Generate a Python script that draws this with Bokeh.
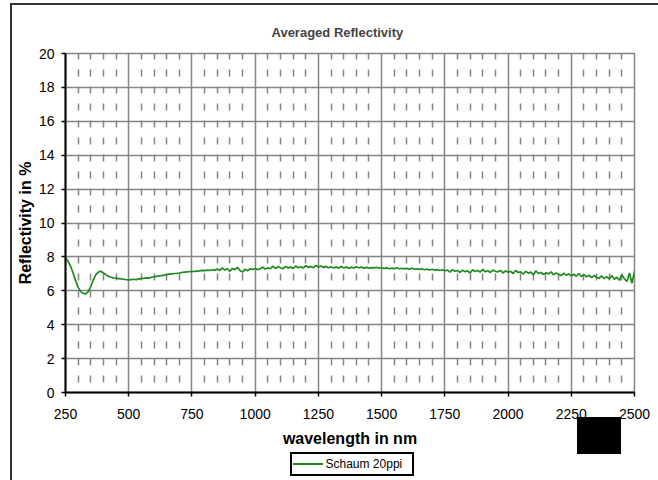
from bokeh.plotting import figure
from bokeh.models import (Range1d, FixedTicker, Title)
from bokeh.embed import file_html
from bokeh.resources import INLINE

# ---- data ----
wavelength_nm = list(range(250, 2501, 10))
reflectivity_pct = [
    7.95, 7.75, 7.45, 7.05, 6.60, 6.20, 5.95, 5.85, 5.82, 5.95,   # 250-340
    6.25, 6.65, 6.95, 7.10, 7.15, 7.05, 6.95, 6.85, 6.80, 6.76,   # 350-440
    6.74, 6.72, 6.70, 6.68, 6.66, 6.65, 6.66, 6.68, 6.66, 6.70,   # 450-540
    6.72, 6.74, 6.76, 6.75, 6.80, 6.82, 6.85, 6.88, 6.90, 6.92,   # 550-640
    6.95, 6.98, 7.00, 7.02, 7.03, 7.05, 7.08, 7.10, 7.12, 7.13,   # 650-740
    7.15, 7.14, 7.16, 7.18, 7.20, 7.19, 7.22, 7.20, 7.24, 7.22,   # 750-840
    7.28, 7.20, 7.35, 7.22, 7.30, 7.15, 7.32, 7.25, 7.38, 7.20,   # 850-940
    7.10, 7.28, 7.18, 7.30, 7.26, 7.32, 7.25, 7.30, 7.40, 7.28,   # 950-1040
    7.35, 7.30, 7.45, 7.32, 7.42, 7.36, 7.30, 7.44, 7.35, 7.40,   # 1050-1140
    7.32, 7.46, 7.36, 7.42, 7.34, 7.48, 7.38, 7.44, 7.36, 7.50,   # 1150-1240
    7.40, 7.46, 7.38, 7.44, 7.36, 7.42, 7.35, 7.40, 7.34, 7.43,   # 1250-1340
    7.36, 7.40, 7.33, 7.38, 7.35, 7.42, 7.36, 7.40, 7.34, 7.38,   # 1350-1440
    7.33, 7.37, 7.35, 7.39, 7.34, 7.36, 7.32, 7.35, 7.30, 7.34,   # 1450-1540
    7.31, 7.36, 7.30, 7.33, 7.29, 7.32, 7.28, 7.33, 7.27, 7.30,   # 1550-1640
    7.26, 7.29, 7.24, 7.28, 7.23, 7.27, 7.22, 7.25, 7.20, 7.24,   # 1650-1740
    7.18, 7.22, 7.10, 7.25, 7.15, 7.20, 7.08, 7.22, 7.12, 7.18,   # 1750-1840
    7.05, 7.24, 7.14, 7.20, 7.10, 7.26, 7.12, 7.18, 7.08, 7.22,   # 1850-1940
    7.15, 7.12, 7.20, 7.05, 7.18, 7.10, 7.15, 7.02, 7.20, 7.08,   # 1950-2040
    7.12, 6.98, 7.15, 7.04, 7.10, 6.95, 7.18, 7.02, 7.08, 6.96,   # 2050-2140
    7.06, 7.00, 7.12, 6.94, 7.05, 6.98, 6.90, 7.04, 6.92, 7.00,   # 2150-2240
    6.88, 6.98, 6.86, 7.02, 6.84, 6.95, 6.82, 6.92, 6.78, 6.90,   # 2250-2340
    6.80, 6.74, 6.88, 6.72, 6.84, 6.70, 6.90, 6.68, 6.80, 6.62,   # 2350-2440
    6.95, 6.70, 6.55, 7.05, 6.45, 7.15,                           # 2450-2500
]
x_ticks = [250, 500, 750, 1000, 1250, 1500, 1750, 2000, 2250, 2500]
x_minor_ticks = [v for v in range(300, 2500, 50) if v not in x_ticks]
y_ticks = [0, 2, 4, 6, 8, 10, 12, 14, 16, 18, 20]
series_name = "Schaum 20ppi"
x_label = "wavelength in nm"
y_label = "Reflectivity in %"

FONT = "Liberation Sans"
GRID = "#858585"
LINE = "#1f8a1f"

# decorative pieces drawn as CSS backgrounds outside the plot frame:
# logo block, legend box outline and legend line sample
bg_layers = [
    "linear-gradient(#000000, #000000) no-repeat 565px 412px / 44px 37px",
    "linear-gradient(#000000, #000000) no-repeat 278px 447px / 124px 2px",
    "linear-gradient(#000000, #000000) no-repeat 278px 469px / 124px 2px",
    "linear-gradient(#000000, #000000) no-repeat 278px 447px / 2px 24px",
    "linear-gradient(#000000, #000000) no-repeat 400px 447px / 2px 24px",
    "linear-gradient(%s, %s) no-repeat 281px 458px / 30px 2px" % (LINE, LINE),
    "#ffffff",
]

p = figure(frame_width=569, frame_height=339, output_backend="svg", toolbar_location=None,
           x_range=Range1d(250, 2500), y_range=Range1d(0, 20),
           min_border_left=53, min_border_right=24, min_border_top=48, min_border_bottom=90,
           background_fill_color="white", border_fill_alpha=0,
           margin=(3, 0, 0, 10),
           styles={"border-left": "2px solid #333333", "border-top": "2px solid #333333",
                   "background": ", ".join(bg_layers)})

p.title.text = "Averaged Reflectivity"
p.title.align = "left"
p.title.text_font = FONT
p.title.text_font_size = "13px"
p.title.text_font_style = "bold"
p.title.offset = 206
p.title.standoff = 28

p.outline_line_color = GRID
p.outline_line_width = 1.5

r = p.line(wavelength_nm, reflectivity_pct, line_color=LINE, line_width=1.7)

for ax in (p.xaxis[0], p.yaxis[0]):
    ax.axis_line_color = "black"
    ax.axis_line_width = 2
    ax.major_tick_line_color = "black"
    ax.major_tick_line_width = 1.5
    ax.major_tick_in = 0
    ax.major_tick_out = 4
    ax.minor_tick_line_color = None
    ax.major_label_text_font = FONT
    ax.major_label_text_font_size = "14px"
    ax.major_label_text_color = "black"
    ax.axis_label_text_font = FONT
    ax.axis_label_text_font_style = "bold"
    ax.axis_label_text_color = "black"
    ax.axis_label_text_font_size = "16px"

p.xaxis[0].ticker = FixedTicker(ticks=x_ticks, minor_ticks=x_minor_ticks)
p.yaxis[0].ticker = FixedTicker(ticks=y_ticks)
p.xaxis[0].major_label_standoff = 12
p.yaxis[0].axis_label = y_label
p.yaxis[0].major_label_standoff = 7
p.yaxis[0].axis_label_standoff = 2

# x-axis title as a separate text panel under the tick labels
p.add_layout(Title(text=x_label, align="center", text_font=FONT, text_font_size="16px",
                   text_font_style="bold", text_color="black", standoff=12, offset=0), "below")
# legend label text (box and line sample are drawn in the background)
p.add_layout(Title(text=series_name, align="left", text_font=FONT, text_font_size="12px",
                   text_font_style="normal", text_color="black", standoff=5,
                   offset=325 - 65), "below")

p.xgrid.grid_line_color = GRID
p.xgrid.grid_line_width = 1.5
p.xgrid.minor_grid_line_color = GRID
p.xgrid.minor_grid_line_width = 1.5
p.xgrid.minor_grid_line_dash = "7 10"
p.xgrid.minor_grid_line_dash_offset = 7
p.ygrid.grid_line_color = GRID
p.ygrid.grid_line_width = 1.5

open("out.html", "w").write(file_html(p, INLINE))
